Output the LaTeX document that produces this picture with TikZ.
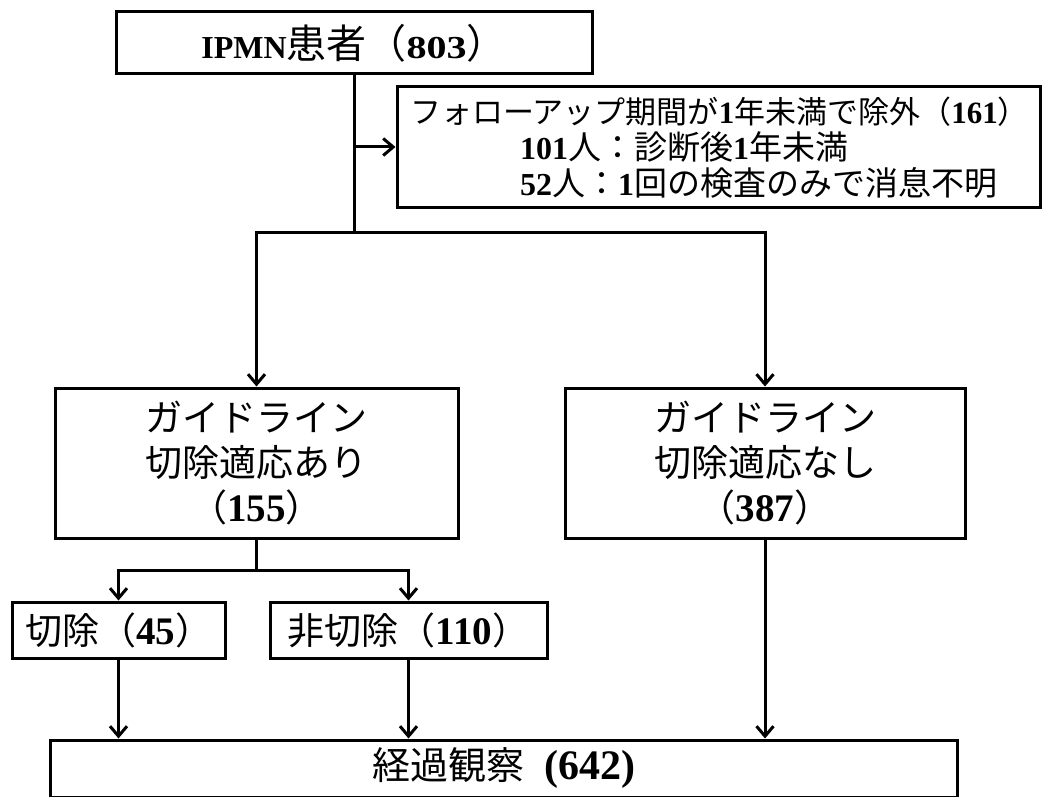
\documentclass[tikz,border=0pt]{standalone}
\usepackage{fontspec}
\usepackage{graphicx}
\setmainfont{Liberation Serif}
\newfontfamily\cjk{Noto Sans CJK JP}
\usetikzlibrary{arrows.meta}
\newcommand{\J}[1]{{\cjk #1}}
\newcommand{\B}[1]{\textbf{#1}}
\newcommand{\Fs}[1]{\fontsize{#1}{#1}\selectfont}
\begin{document}
\begin{tikzpicture}[x=1pt,y=-1pt,
  box/.style={draw, line width=3pt, inner sep=0pt, align=center},
  conn/.style={line width=3pt},
  arr/.style={line width=3pt, -{Straight Barb[length=10pt,width=17pt]}}]
\useasboundingbox (0,0) rectangle (1044,797);
\clip (0,0) rectangle (1044,797);
\fill[white] (0,0) rectangle (1044,797);

% boxes
\node[box, minimum width=476, minimum height=62] (top) at (354,43)
  {\Fs{32}\B{IPMN}\J{\Fs{40}患者（}\scalebox{1.25}[1]{\B{803}}\J{\Fs{40}）}};

\node[box, minimum width=643, minimum height=120] (excl) at (718.5,147) {};
\node[anchor=base west, inner sep=0pt] (ex1) at (410,124)
  {\Fs{31}\J{フォローアップ期間が}\B{1}\J{年未満で除外（}\B{161}\J{）}};
\node[anchor=base west, inner sep=0pt] (ex2) at (520,159.5)
  {\Fs{32}\B{101}\J{\Fs{33}人：診断後}\B{1}\J{\Fs{33}年未満}};
\node[anchor=base west, inner sep=0pt] (ex3) at (520,195.5)
  {\Fs{32}\B{52}\J{\Fs{33}人：}\B{1}\J{\Fs{33}回の検査のみで消息不明}};

\node[box, minimum width=403, minimum height=150, font=\fontsize{37}{45}\selectfont] (lbox) at (256.5,463)
  {\J{ガイドライン}\\\J{切除適応あり}\\\J{（}{\Fs{39}\B{155}}\J{）}};
\node[box, minimum width=400, minimum height=150, font=\fontsize{37}{45}\selectfont] (rbox) at (765,463)
  {\J{ガイドライン}\\\J{切除適応なし}\\\J{（}{\Fs{39}\B{387}}\J{）}};

\node[box, minimum width=213, minimum height=56, font=\fontsize{37}{45}\selectfont] (cut) at (118.5,630)
  {\J{切除（}{\Fs{39}\B{45}}\J{）}};
\node[box, minimum width=277, minimum height=56, font=\fontsize{37}{45}\selectfont] (nocut) at (408.5,630)
  {\J{非切除（}{\Fs{39}\B{110}}\J{）}};

\node[box, minimum width=907, minimum height=57] (obs) at (503.5,768.5)
  {\J{\Fs{38}経過観察}\hspace{20pt}{\Fs{42}\B{(642)}}};

% connectors
\coordinate (hy1) at (0,232);
\coordinate (hy2) at (0,570);
\coordinate (split1) at (top.south |- hy1);
\coordinate (j1) at (top.south |- excl.west);
\coordinate (split2) at (lbox.south |- hy2);

\draw[conn] (top.south) -- (split1);
\draw[arr] (j1) -- (excl.west);
\draw[arr] (split1) -| (lbox.north);
\draw[arr] (split1) -| (rbox.north);
\draw[conn] (lbox.south) -- (split2);
\draw[arr] (split2) -| (cut.north);
\draw[arr] (split2) -| (nocut.north);
\draw[arr] (cut.south) -- (cut.south |- obs.north);
\draw[arr] (nocut.south) -- (nocut.south |- obs.north);
\draw[arr] (rbox.south) -- (rbox.south |- obs.north);
\end{tikzpicture}
\end{document}
